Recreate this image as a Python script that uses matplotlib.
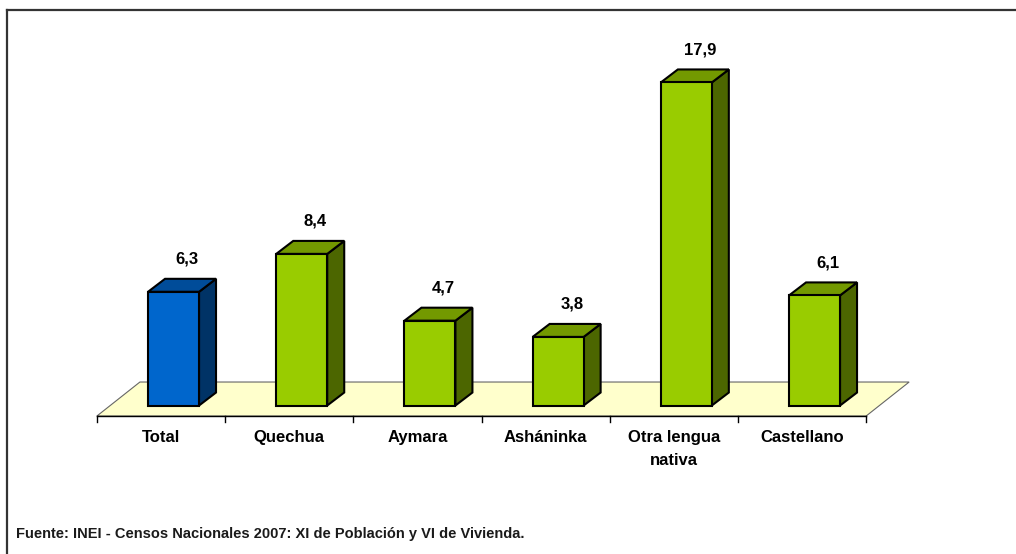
import matplotlib
matplotlib.use('Agg')
import matplotlib.pyplot as plt
from matplotlib.patches import Polygon, Rectangle
from matplotlib.lines import Line2D

plt.rcParams['font.family'] = ['Liberation Sans Narrow', 'Liberation Sans', 'DejaVu Sans']

categorias = ['Total', 'Quechua', 'Aymara', 'Asháninka', 'Otra lengua\nnativa', 'Castellano']
valores = [6.3, 8.4, 4.7, 3.8, 17.9, 6.1]
etiquetas = ['6,3', '8,4', '4,7', '3,8', '17,9', '6,1']
fuente = 'Fuente: INEI - Censos Nacionales 2007: XI de Población y VI de Vivienda.'

# colores: frente, lado, tapa
azul = ('#0066CC', '#003366', '#004C99')
verde = ('#99CC00', '#4C6600', '#739900')

fig = plt.figure(figsize=(10.16, 5.54), dpi=100, facecolor='white')
ax = fig.add_axes([0, 0, 1, 1])
ax.set_xlim(-1.256, 6.669)
ax.set_ylim(-7.645, 23.05)
ax.axis('off')

# escala: pixeles -> unidades
px_x = 128.2
px_y = 18.05

# piso
fdx, fdy = 43 / px_x, 34 / px_y
n = len(categorias)
piso = Polygon([(-0.5, 0), (n - 0.5, 0), (n - 0.5 + fdx, fdy), (-0.5 + fdx, fdy)],
               closed=True, facecolor='#FFFFCC', edgecolor='#666666', lw=0.8, zorder=1)
ax.add_patch(piso)
ax.plot([-0.5, n - 0.5], [0, 0], color='black', lw=1, zorder=2)
for k in range(n + 1):
    ax.plot([-0.5 + k, -0.5 + k], [0, -6 / px_y], color='black', lw=1, zorder=2)

# barras 3D
w = 51 / px_x
bdx, bdy = 12.5 / px_x, 10.5 / px_y
sdx, sdy = 17 / px_x, 13 / px_y
for i, v in enumerate(valores):
    frente, lado, tapa = azul if i == 0 else verde
    x0 = i - w / 2 + bdx
    x1 = x0 + w
    y0 = bdy
    y1 = bdy + v
    ax.add_patch(Polygon([(x1, y0), (x1 + sdx, y0 + sdy), (x1 + sdx, y1 + sdy), (x1, y1)],
                         closed=True, facecolor=lado, edgecolor='black', lw=1.5, zorder=3))
    ax.add_patch(Polygon([(x0, y1), (x1, y1), (x1 + sdx, y1 + sdy), (x0 + sdx, y1 + sdy)],
                         closed=True, facecolor=tapa, edgecolor='black', lw=1.5, zorder=3))
    ax.add_patch(Rectangle((x0, y0), w, v, facecolor=frente, edgecolor='black', lw=1.5, zorder=4))
    ax.text(x0 + w / 2 + 0.8 * sdx, y1 + sdy + 1.08, etiquetas[i], ha='center', va='center',
            fontsize=12, fontweight='bold', color='black', zorder=5)

for i, c in enumerate(categorias):
    ax.text(i, -0.8, c, ha='center', va='top', fontsize=12, fontweight='bold',
            linespacing=1.6, color='black')

fig.text(16 / 1016, (554 - 534) / 554, fuente, ha='left', va='center',
         fontsize=10.5, fontweight='bold', color='#1a1a1a')

# marco
fig.add_artist(Line2D([7 / 1016, 7 / 1016], [0, 1 - 10 / 554], transform=fig.transFigure,
                      color='#333333', lw=1.6))
fig.add_artist(Line2D([7 / 1016, 1], [1 - 10 / 554, 1 - 10 / 554], transform=fig.transFigure,
                      color='#333333', lw=1.6))

fig.savefig('out.png', dpi=100, facecolor='white')
